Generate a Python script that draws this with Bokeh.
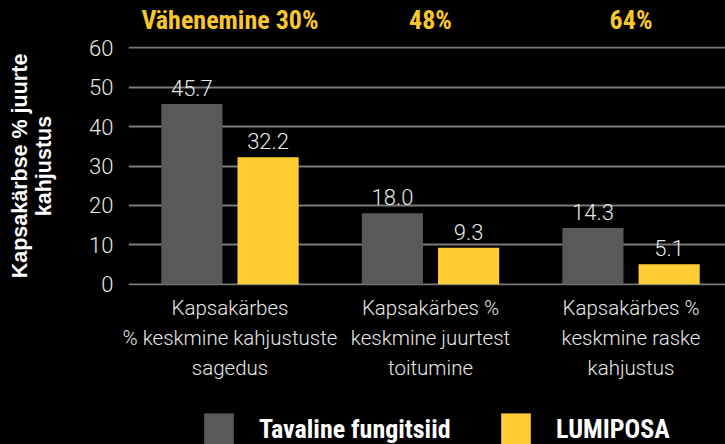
import numpy as np
from bokeh.plotting import figure
from bokeh.layouts import column
from bokeh.models import (Range1d, FixedTicker, Legend, LegendItem, LinearAxis,
                          GlobalInlineStyleSheet)
from bokeh.core.properties import value
from bokeh.embed import file_html
from bokeh.resources import INLINE

# ---- data ----
categories = ["Kapsakärbes\n% keskmine kahjustuste\nsagedus",
              "Kapsakärbes %\nkeskmine juurtest\ntoitumine",
              "Kapsakärbes %\nkeskmine raske\nkahjustus"]
conventional = [45.7, 18.0, 14.3]
lumiposa = [32.2, 9.3, 5.1]
reduction_labels = ["Vähenemine 30%", "48%", "64%"]
series_names = ["Tavaline fungitsiid", "LUMIPOSA"]
y_ticks = [0, 10, 20, 30, 40, 50, 60]
y_title = "Kapsakärbse % juurte\nkahjustus"

GRAY = "#58595b"
YELLOW = "#ffcc33"
TXT_YELLOW = "#f9c72c"
LIGHT = "#e8e8e8"
LIGHT_FONT_S = "'Roboto Light', Roboto, sans-serif"
NARROW_BOLD_S = "'Liberation Sans Narrow', 'Roboto Condensed', sans-serif"
BOLD_S = "'Liberation Sans', Arial, sans-serif"
LIGHT_FONT = value(LIGHT_FONT_S)
COLORS = [GRAY, YELLOW]
SERIES = [conventional, lumiposa]

idx = np.arange(len(categories))
off = 0.19
bw = 0.305

p = figure(width=725, height=400, output_backend="svg", toolbar_location=None,
           x_range=Range1d(-0.506, 2.471), y_range=Range1d(-0.3, 60.3),
           min_border_left=128, min_border_right=0, min_border_top=46,
           min_border_bottom=115, background_fill_color="black",
           border_fill_color="black", outline_line_color=None,
           x_axis_location=None)

p.xgrid.visible = False
p.ygrid.ticker = FixedTicker(ticks=y_ticks)
p.ygrid.grid_line_color = "#7a7a7a"
p.ygrid.grid_line_width = 2

# y axis
ax = p.yaxis[0]
ax.ticker = FixedTicker(ticks=y_ticks)
ax.axis_line_color = None
ax.major_tick_line_color = None
ax.minor_tick_line_color = None
ax.major_tick_out = 0
ax.major_label_standoff = 15
ax.major_label_text_font = LIGHT_FONT_S
ax.major_label_text_font_size = "22px"
ax.major_label_text_color = LIGHT
ax.axis_label = y_title
ax.axis_label_standoff = 30
ax.axis_label_text_font = BOLD_S
ax.axis_label_text_font_size = "21.5px"
ax.axis_label_text_font_style = "bold"
ax.axis_label_text_color = "white"
ax.axis_label_text_line_height = 1.0


def cat_axis(labels, font, size, style, color, standoff):
    return LinearAxis(ticker=FixedTicker(ticks=list(idx)),
                      major_label_overrides={int(i): t for i, t in zip(idx, labels)},
                      axis_line_color=None, major_tick_line_color=None,
                      minor_tick_line_color=None, major_tick_out=0, major_tick_in=0,
                      major_label_standoff=standoff, major_label_text_font=font,
                      major_label_text_font_size=size,
                      major_label_text_font_style=style,
                      major_label_text_color=color)


# category labels below, reduction labels above
bottom_axis = cat_axis(categories, LIGHT_FONT_S, "20.5px", "normal", LIGHT, 10)
bottom_axis.major_label_text_line_height = 1.26
p.add_layout(bottom_axis, "below")
top_axis = cat_axis(reduction_labels, NARROW_BOLD_S, "26px", "bold", TXT_YELLOW, 12)
p.add_layout(top_axis, "above")

r_gray = p.vbar(x=idx - off, top=conventional, width=bw, bottom=0,
                fill_color=GRAY, line_color=None)
r_yel = p.vbar(x=idx + off, top=lumiposa, width=bw, bottom=0,
               fill_color=YELLOW, line_color=None)

# value labels
p.text(x=idx - off, y=conventional, text=[f"{v:.1f}" for v in conventional],
       text_align="center", text_baseline="alphabetic", y_offset=-16,
       text_font=LIGHT_FONT, text_font_size="22px", text_color=LIGHT)
p.text(x=idx + off, y=lumiposa, text=[f"{v:.1f}" for v in lumiposa],
       text_align="center", text_baseline="alphabetic", y_offset=-16,
       text_font=LIGHT_FONT, text_font_size="22px", text_color=LIGHT)

# legend strip (separate figure below the chart; its bars lie outside its view)
q = figure(width=725, height=44, output_backend="svg", toolbar_location=None,
           x_range=Range1d(100, 101), y_range=Range1d(1000, 1001),
           min_border_left=0, min_border_right=0, min_border_top=0,
           min_border_bottom=0, background_fill_color="black",
           border_fill_color="black", outline_line_color=None,
           x_axis_location=None, y_axis_location=None)
q.xgrid.visible = False
q.ygrid.visible = False
for name, col, vals, xloc in zip(series_names, COLORS, SERIES, [72, 369]):
    r = q.vbar(x=idx, top=vals, bottom=0, width=0.1, fill_color=col,
               line_color=None)
    lg = Legend(items=[LegendItem(label=name, renderers=[r])],
                location=(xloc, -4), orientation="horizontal", glyph_width=37,
                glyph_height=39, label_standoff=22, padding=0, margin=0,
                border_line_color=None, background_fill_alpha=0,
                label_text_font=NARROW_BOLD_S, label_text_font_size="26px",
                label_text_font_style="bold", label_text_color="white")
    q.add_layout(lg, "center")

layout = column(p, q, spacing=0)
layout.stylesheets = [GlobalInlineStyleSheet(css="html, body { background: #000; overflow: hidden; margin: 0; }")]

open("out.html", "w").write(file_html(layout, INLINE))
